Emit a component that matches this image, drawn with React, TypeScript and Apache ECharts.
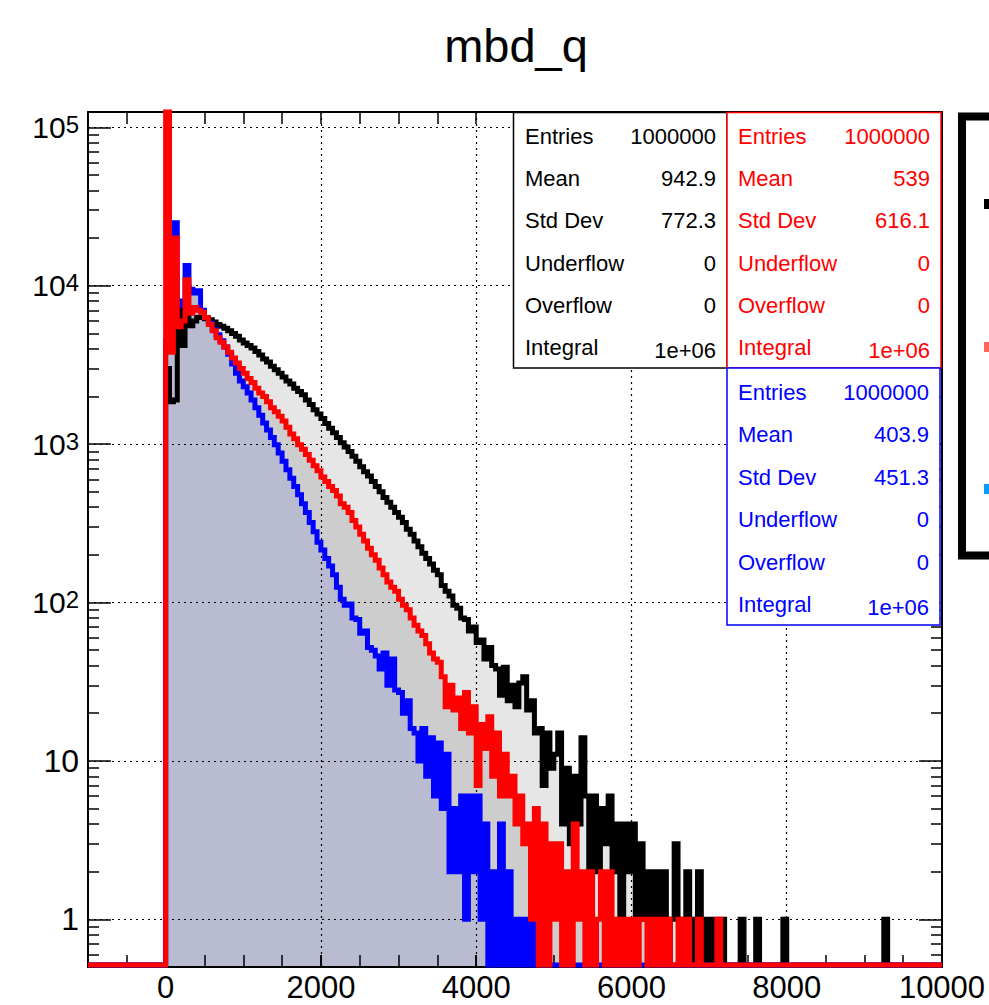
import React, { useEffect, useRef } from "react";
import * as echarts from "echarts";

const FONT = '"Liberation Sans", Arial, Helvetica, sans-serif';

// Histogram binning (x lower edge of bin i = BIN_START + i * BIN_WIDTH)
const BIN_START = 0;
const BIN_WIDTH = 50;
const X_RANGE = [-1000, 10000];
const Y_RANGE = [0.5, 125000];
const EMPTY_LEVEL = 0.515; // empty bins are drawn on the frame bottom (ROOT log style)

const blackCounts = [
  3000, 1850, 1900, 7000, 4200, 7200, 5600, 6000, 6300, 6300,
  6200, 6100, 5900, 5700, 5550, 5400, 5200, 5000, 4800, 4550,
  4350, 4200, 4050, 3850, 3650, 3450, 3300, 3100, 2950, 2800,
  2650, 2500, 2400, 2250, 2150, 2050, 1900, 1780, 1650, 1550,
  1450, 1350, 1260, 1180, 1100, 1020, 960, 900, 840, 780,
  720, 670, 630, 580, 540, 500, 460, 430, 400, 370,
  345, 320, 290, 270, 245, 225, 205, 190, 175, 160,
  150, 128, 118, 110, 96, 92, 80, 78, 66, 70,
  56, 58, 44, 52, 40, 38, 26, 39, 24, 30,
  22, 31, 34, 21, 24, 15, 16, 7, 15, 9,
  11, 15, 4, 9, 3, 8, 4, 14, 6, 2,
  6, 2, 5, 3, 6, 2, 4, 1, 4, 2,
  4, 1, 3, 1, 2, 0, 2, 1, 2, 0,
  1, 3, 1, 0, 2, 0, 1, 2, 0, 1,
  0, 1, 0, 1, 0, 0, 0, 0, 1, 0,
  0, 0, 1, 0, 0, 0, 0, 0, 0, 1,
  0, 0, 0, 0, 0, 0, 0, 0, 0, 0,
  0, 0, 0, 0, 0, 0, 0, 0, 0, 0,
  0, 0, 0, 0, 0, 1,
];

const redCounts = [
  300000, 3800, 20000, 5500, 6000, 10900, 6700, 7300, 7000, 6800,
  6300, 5700, 5200, 4700, 4400, 4100, 3800, 3500, 3250, 3000,
  2800, 2600, 2450, 2250, 2100, 2000, 1850, 1700, 1600, 1500,
  1400, 1280, 1160, 1080, 990, 930, 860, 790, 730, 680,
  620, 580, 540, 510, 470, 420, 400, 370, 330, 300,
  270, 245, 220, 200, 185, 165, 150, 135, 125, 118,
  105, 96, 90, 80, 72, 66, 62, 55, 48, 44,
  42, 34, 22, 30, 21, 25, 16, 27, 15, 22,
  7, 17, 12, 19, 8, 15, 6, 11, 6, 8,
  4, 6, 3, 4, 1, 5, 0, 4, 0, 3,
  1, 3, 0, 2, 0, 4, 1, 2, 0, 2,
  0, 1, 2, 0, 2, 0, 1, 0, 1, 0,
  1, 0, 1, 1, 0, 1, 0, 1, 0, 1,
  0, 0, 1, 0, 1, 0, 0, 1, 0, 0,
  0, 0, 1,
];

const blueCounts = [
  4500, 5000, 25000, 8000, 7500, 13400, 9500, 9000, 9300, 7000,
  6300, 5800, 5300, 4900, 4500, 4100, 3700, 3200, 2800, 2500,
  2300, 2100, 1900, 1700, 1520, 1360, 1230, 1100, 990, 880,
  780, 690, 610, 540, 480, 420, 370, 320, 280, 240,
  215, 190, 170, 150, 125, 105, 96, 98, 80, 78,
  64, 66, 52, 50, 46, 38, 48, 30, 44, 28,
  27, 20, 24, 16, 15, 10, 16, 8, 14, 6,
  13, 5, 11, 2, 5, 2, 6, 1, 6, 2,
  6, 1, 4, 0, 2, 0, 4, 0, 2, 0,
  1, 0, 1, 0, 1, 0, 1,
];

const titleText = "mbd_q";
const xLabelValues = [0, 2000, 4000, 6000, 8000, 10000];
const xGridValues = [0, 2000, 4000, 6000, 8000];
const yLabelValues = [1, 10, 100, 1000, 10000, 100000];
const yMinorMantissas = [2, 3, 4, 5, 6, 7, 8, 9];

const statLabels = ["Entries", "Mean", "Std Dev", "Underflow", "Overflow", "Integral"];
const blackStats = ["1000000", "942.9", "772.3", "0", "0", "1e+06"];
const redStats = ["1000000", "539", "616.1", "0", "0", "1e+06"];
const blueStats = ["1000000", "403.9", "451.3", "0", "0", "1e+06"];

const legendMarkerColors = ["#000000", "#ff6655", "#0a9cff"];

function histPoints(counts: number[]): [number, number][] {
  const pts: [number, number][] = [[X_RANGE[0], EMPTY_LEVEL]];
  counts.forEach((c, i) => {
    pts.push([BIN_START + i * BIN_WIDTH, c > 0 ? c : EMPTY_LEVEL]);
  });
  pts.push([BIN_START + counts.length * BIN_WIDTH, EMPTY_LEVEL]);
  pts.push([X_RANGE[1], EMPTY_LEVEL]);
  return pts;
}

const yMinorTicks: number[] = [];
for (let e = -1; e <= 4; e++) {
  for (const m of yMinorMantissas) {
    const v = m * Math.pow(10, e);
    if (v > Y_RANGE[0] && v < Y_RANGE[1]) yMinorTicks.push(v);
  }
}

function txt(x: number, y: number, text: string, color: string, align: string, size = 22) {
  return {
    type: "text",
    x,
    y,
    z: 20,
    style: {
      text,
      fill: color,
      font: `${size}px ${FONT}`,
      fontSize: size,
      fontFamily: FONT,
      align,
      textAlign: align,
      verticalAlign: "middle",
      textVerticalAlign: "middle",
    },
  };
}

function statBox(
  x: number, y: number, w: number, h: number, color: string,
  values: string[], labelX: number, valueX: number, firstRow: number, step: number
) {
  const els: any[] = [
    {
      type: "rect",
      z: 19,
      shape: { x, y, width: w, height: h },
      style: { fill: "#ffffff", stroke: color, lineWidth: 1.5 },
    },
  ];
  statLabels.forEach((lab, k) => {
    const yy = firstRow + k * step;
    const last = k === statLabels.length - 1;
    els.push(txt(labelX, last ? yy - 1 : yy, lab, color, "left"));
    els.push(txt(valueX, last ? yy + 2 : yy, values[k], color, "right"));
  });
  return els;
}

const axisBlack = { color: "#000000", width: 2 };

function buildOption() {
  const fill = (counts: number[], color: string) => ({
    type: "line",
    data: histPoints(counts),
    step: "end",
    symbol: "none",
    silent: true,
    z: 1,
    lineStyle: { width: 0, opacity: 0 },
    areaStyle: { color, opacity: 1, origin: "start" },
    xAxisIndex: 0,
    yAxisIndex: 0,
  });
  const line = (counts: number[], color: string) => ({
    type: "line",
    data: histPoints(counts),
    step: "end",
    symbol: "none",
    silent: true,
    z: 3,
    lineStyle: { width: 5, color, join: "miter", cap: "butt" },
    xAxisIndex: 0,
    yAxisIndex: 0,
  });

  const yBase = {
    type: "log",
    logBase: 10,
    min: Y_RANGE[0],
    max: Y_RANGE[1],
    z: 2,
  };
  const xBase = {
    type: "value",
    min: X_RANGE[0],
    max: X_RANGE[1],
    z: 2,
  };

  const graphic: any[] = [
    {
      type: "text",
      x: 516,
      y: 45,
      z: 20,
      style: {
        text: titleText,
        fill: "#000",
        font: `47px ${FONT}`,
        fontSize: 47,
        fontFamily: FONT,
        align: "center",
        textAlign: "center",
        verticalAlign: "middle",
        textVerticalAlign: "middle",
      },
    },
    ...statBox(513.5, 112.5, 213.5, 255.5, "#000000", blackStats, 525, 716, 136, 42.4),
    ...statBox(727, 112.5, 214, 255.5, "#ff0000", redStats, 738, 930, 136, 42.4),
    ...statBox(727, 368, 213, 257, "#0000ff", blueStats, 738, 929, 392, 42.6),
    {
      type: "rect",
      z: 19,
      shape: { x: 962, y: 116.5, width: 80, height: 439 },
      style: { fill: "#ffffff", stroke: "#000000", lineWidth: 8 },
    },
    ...legendMarkerColors.map((c, k) => ({
      type: "rect",
      z: 20,
      shape: { x: 984, y: [199, 342, 484][k], width: 10, height: 10 },
      style: { fill: c },
    })),
  ];

  return {
    animation: false,
    backgroundColor: "#ffffff",
    textStyle: { fontFamily: FONT },
    grid: {
      left: 88,
      right: 47,
      top: 112,
      bottom: 38,
      containLabel: false,
      outerBoundsMode: "none",
    },
    xAxis: [
      {
        ...xBase,
        position: "bottom",
        axisLine: { show: true, onZero: false, lineStyle: axisBlack },
        axisTick: {
          show: true,
          inside: true,
          length: 12,
          customValues: xGridValues,
          lineStyle: { color: "#000", width: 1.5 },
        },
        axisLabel: {
          show: true,
          customValues: xLabelValues,
          formatter: (v: number) => String(v),
          color: "#000",
          fontSize: 31,
          lineHeight: 24,
          fontFamily: FONT,
          margin: 8,
        },
        splitLine: {
          show: true,
          lineStyle: { color: "#000", width: 1.2, type: [2, 4] },
        },
      },
      {
        ...xBase,
        position: "bottom",
        interval: 500,
        axisLine: { show: false, onZero: false },
        axisTick: { show: true, inside: true, length: 12, lineStyle: { color: "#000", width: 1.5 } },
        axisLabel: { show: false },
        splitLine: { show: false },
      },
      {
        ...xBase,
        position: "top",
        interval: 500,
        axisLine: { show: true, onZero: false, lineStyle: axisBlack },
        axisTick: { show: true, inside: true, length: 12, lineStyle: { color: "#000", width: 1.5 } },
        axisLabel: { show: false },
        splitLine: { show: false },
      },
    ],
    yAxis: [
      {
        ...yBase,
        position: "left",
        axisLine: { show: true, onZero: false, lineStyle: axisBlack },
        axisTick: {
          show: true,
          inside: true,
          length: 23,
          customValues: yLabelValues,
          lineStyle: { color: "#000", width: 1.5 },
        },
        axisLabel: {
          show: true,
          customValues: yLabelValues,
          margin: 9,
          formatter: (v: number) => {
            const e = Math.round(Math.log10(v));
            return e >= 2 ? `{b|10}{s|${e}}` : `{p|${Math.round(v)}}`;
          },
          rich: {
            b: {
              fontSize: 30, fontFamily: FONT, color: "#000",
              lineHeight: 30, padding: [10, 0, 0, 0], verticalAlign: "bottom",
            },
            s: {
              fontSize: 24, fontFamily: FONT, color: "#000",
              lineHeight: 30, verticalAlign: "top",
            },
            p: { fontSize: 32, fontFamily: FONT, color: "#000" },
          },
        },
        splitLine: {
          show: true,
          lineStyle: { color: "#000", width: 1.2, type: [2, 4] },
        },
      },
      {
        ...yBase,
        position: "left",
        axisLine: { show: false, onZero: false },
        axisTick: {
          show: true,
          inside: true,
          length: 11,
          customValues: yMinorTicks,
          lineStyle: { color: "#000", width: 1.5 },
        },
        axisLabel: { show: false },
        splitLine: { show: false },
      },
      {
        ...yBase,
        position: "right",
        axisLine: { show: true, onZero: false, lineStyle: axisBlack },
        axisTick: {
          show: true,
          inside: true,
          length: 23,
          customValues: yLabelValues,
          lineStyle: { color: "#000", width: 1.5 },
        },
        axisLabel: { show: false },
        splitLine: { show: false },
      },
      {
        ...yBase,
        position: "right",
        axisLine: { show: false, onZero: false },
        axisTick: {
          show: true,
          inside: true,
          length: 11,
          customValues: yMinorTicks,
          lineStyle: { color: "#000", width: 1.5 },
        },
        axisLabel: { show: false },
        splitLine: { show: false },
      },
    ],
    series: [
      fill(blackCounts, "#e6e6e6"),
      fill(redCounts, "#cdcdcd"),
      fill(blueCounts, "#b9bbd1"),
      line(blackCounts, "#000000"),
      line(blueCounts, "#0000ff"),
      line(redCounts, "#ff0000"),
    ],
    graphic,
  };
}

export default function App() {
  const ref = useRef<HTMLDivElement>(null);
  useEffect(() => {
    document.body.style.margin = "0";
    const chart = echarts.init(ref.current as HTMLDivElement, null, { renderer: "svg" });
    chart.setOption(buildOption() as any);
    return () => {
      chart.dispose();
    };
  }, []);
  return <div ref={ref} style={{ width: 989, height: 1005 }} />;
}
